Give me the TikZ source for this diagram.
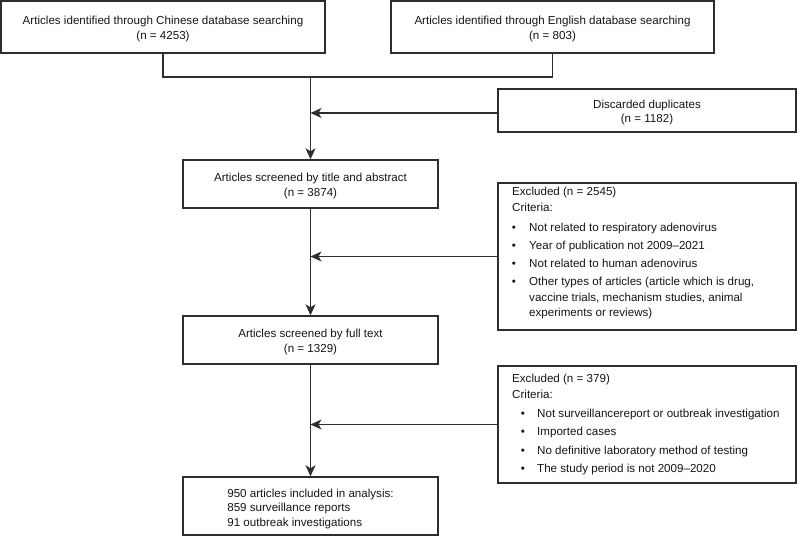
\documentclass[tikz,border=0pt]{standalone}
\usepackage{fontspec}
\setmainfont{Liberation Sans}
\usetikzlibrary{arrows.meta,calc}
\definecolor{linec}{HTML}{2E2E2E}
\definecolor{textc}{HTML}{151515}
\begin{document}
\begin{tikzpicture}[x=1pt,y=-1pt,
  box/.style={draw=linec, line width=1.4pt, inner sep=0pt},
  btxt/.style={inner sep=0pt, text=textc, font=\fontsize{11.6}{14.5}\selectfont, align=center},
  txt/.style={inner sep=0pt, anchor=base west, text=textc, font=\fontsize{11.6}{14.5}\selectfont},
  bul/.style={inner sep=0pt, anchor=base, text=textc, font=\fontsize{11.6}{14.5}\selectfont},
  conn/.style={draw=linec, line width=1.4pt},
  arr/.style={conn, -{Stealth[length=11pt,width=10pt,inset=3pt]}}]
\useasboundingbox (0,0) rectangle (797,536);

% boxes
\node[box, minimum width=324pt, minimum height=52pt] (chin) at (163,27) {};
\node[btxt] (chin-t) at ($(chin.center)+(0,2)$)
  {Articles identified through Chinese database searching\\(n = 4253)};
\node[box, minimum width=323pt, minimum height=52pt] (eng) at (552.5,27) {};
\node[btxt] (eng-t) at ($(eng.center)+(0,2)$)
  {Articles identified through English database searching\\(n = 803)};
\node[box, minimum width=298pt, minimum height=43pt] (disc) at (647,110.5) {};
\node[btxt] (disc-t) at ($(disc.center)+(0,2)$)
  {Discarded duplicates\\(n = 1182)};
\node[box, minimum width=255pt, minimum height=48pt] (scr1) at (310.5,184) {};
\node[btxt] (scr1-t) at ($(scr1.center)+(0,2)$)
  {Articles screened by title and abstract\\(n = 3874)};
\node[box, minimum width=298pt, minimum height=147pt] (exc1) at (647,256.5) {};
\node[box, minimum width=255pt, minimum height=48pt] (scr2) at (310.5,340) {};
\node[btxt] (scr2-t) at ($(scr2.center)+(0,2)$)
  {Articles screened by full text\\(n = 1329)};
\node[box, minimum width=298pt, minimum height=117pt] (exc2) at (647,424.5) {};
\node[box, minimum width=255pt, minimum height=58pt] (incl) at (310.5,506) {};
\node[btxt, align=left] (incl-t) at ($(incl.center)+(0,2.5)$)
  {950 articles included in analysis:\\859 surveillance reports\\91 outbreak investigations};

% excluded 1 text
\node[txt] (e1a) at (512,195.5) {Excluded (n = 2545)};
\node[txt] (e1b) at (512,211) {Criteria:};
\node[bul] (b1a) at (514,231.5) {•};
\node[txt] (e1c) at (529,231.5) {Not related to respiratory adenovirus};
\node[bul] (b1b) at (514,249.5) {•};
\node[txt] (e1d) at (529,249.5) {Year of publication not 2009–2021};
\node[bul] (b1c) at (514,267.5) {•};
\node[txt] (e1e) at (529,267.5) {Not related to human adenovirus};
\node[bul] (b1d) at (514,285.5) {•};
\node[txt] (e1f) at (529,285.5) {Other types of articles (article which is drug,};
\node[txt] (e1g) at (529,301) {vaccine trials, mechanism studies, animal};
\node[txt] (e1h) at (529,316.5) {experiments or reviews)};

% excluded 2 text
\node[txt] (e2a) at (512,382) {Excluded (n = 379)};
\node[txt] (e2b) at (512,398) {Criteria:};
\node[bul] (b2a) at (523,417.5) {•};
\node[txt] (e2c) at (537,417.5) {Not surveillancereport or outbreak investigation};
\node[bul] (b2b) at (523,435) {•};
\node[txt] (e2d) at (537,435) {Imported cases};
\node[bul] (b2c) at (523,454) {•};
\node[txt] (e2e) at (537,454) {No definitive laboratory method of testing};
\node[bul] (b2d) at (523,472.5) {•};
\node[txt] (e2f) at (537,472.5) {The study period is not 2009–2020};

% connectors
\coordinate (j) at (310.5,77);
\coordinate (dj) at ($(disc.west)+(0,2.5)$);
\draw[conn] (chin.south) |- (j);
\draw[conn] (eng.south) |- (j);
\draw[arr] (j) -- (scr1.north);
\draw[arr] (dj) -- (dj -| j);
\draw[arr] (scr1.south) -- (scr2.north);
\draw[arr] (exc1.west) -- (exc1.west -| scr1.south);
\draw[arr] (scr2.south) -- (incl.north);
\draw[arr] (exc2.west) -- (exc2.west -| scr2.south);
\end{tikzpicture}
\end{document}
